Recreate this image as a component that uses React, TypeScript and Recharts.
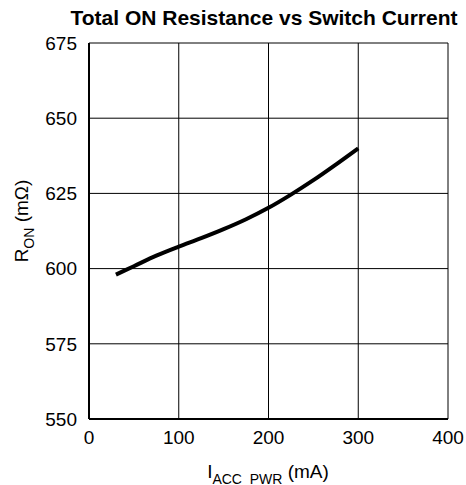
import React from 'react'
import {
    LineChart,
    Line,
    XAxis,
    YAxis,
    CartesianGrid,
} from "recharts";

const currents: number[] = [30, 50, 75, 100, 125, 150, 175, 200, 225, 250, 275, 300];
const resistance: number[] = [598, 600.8, 604.3, 607.3, 610.1, 613.1, 616.4, 620.2, 624.6, 629.4, 634.6, 640];
const xTicks: number[] = [0, 100, 200, 300, 400];
const yTicks: number[] = [550, 575, 600, 625, 650, 675];

const data = currents.map((c, i) => ({ current: c, ron: resistance[i] }));

const FONT = '"Liberation Sans", Arial, sans-serif';

const App = () => {
    return (
        <div style={{ position: 'absolute', left: 0, top: 0, width: 466, height: 485, background: '#fff' }}>
            <LineChart
                width={466}
                height={485}
                data={data}
                margin={{ top: 43, right: 18, left: 29, bottom: 36 }}
                style={{ fontFamily: FONT }}
            >
                <text x={264} y={25} textAnchor="middle" fontSize={21} fontWeight="bold" fill="#000" fontFamily={FONT}>
                    Total ON Resistance vs Switch Current
                </text>
                <text x={268} y={478} textAnchor="middle" fontSize={19} fill="#000" fontFamily={FONT}>
                    I<tspan fontSize={14} dy={6}>ACC_PWR</tspan><tspan dy={-6}> (mA)</tspan>
                </text>
                <text x={28} y={221} textAnchor="middle" fontSize={19} fill="#000" fontFamily={FONT} transform="rotate(-90 28 221)">
                    R<tspan fontSize={14} dy={6}>ON</tspan><tspan dy={-6}> (mΩ)</tspan>
                </text>
                <CartesianGrid stroke="#000" strokeWidth={1} />
                <XAxis
                    dataKey="current"
                    type="number"
                    domain={[0, 400]}
                    ticks={xTicks}
                    tickSize={0}
                    tickMargin={12}
                    stroke="#000"
                    strokeWidth={2}
                    tick={{ fill: '#000', fontSize: 19, fontFamily: FONT }}
                />
                <YAxis
                    type="number"
                    domain={[550, 675]}
                    ticks={yTicks}
                    width={60}
                    tickSize={0}
                    tickMargin={12}
                    stroke="#000"
                    strokeWidth={2}
                    tick={{ fill: '#000', fontSize: 19, fontFamily: FONT }}
                />
                <Line
                    dataKey="ron"
                    type="monotone"
                    stroke="#000"
                    strokeWidth={4}
                    dot={false}
                    isAnimationActive={false}
                />
            </LineChart>
        </div>
    )
}

export default App;
